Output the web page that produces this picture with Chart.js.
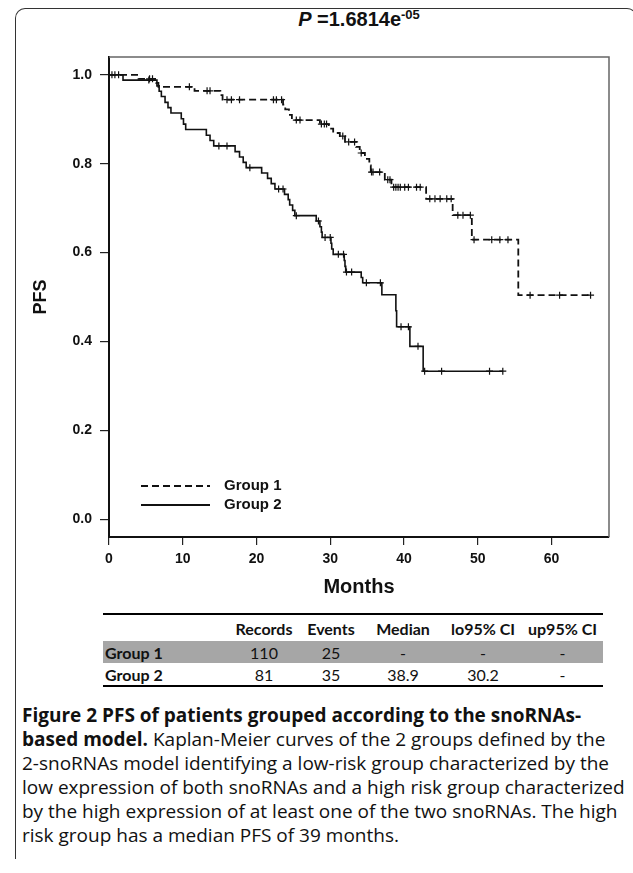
<!DOCTYPE html>
<html>
<head>
<meta charset="utf-8">
<script src="https://cdn.jsdelivr.net/npm/chart.js@4.4.1/dist/chart.umd.min.js"></script>
<style>
  html, body { margin: 0; padding: 0; background: #fff; }
  body { width: 633px; height: 873px; position: relative; overflow: hidden; font-family: 'Liberation Sans', Arial, sans-serif; color: #111; }
  #frame { position: absolute; left: 15px; top: 8px; width: 620px; height: 850px; border: 1.5px solid #333; border-bottom: none; border-radius: 10px 10px 0 0; }
  #plotTitle { position: absolute; left: 109px; top: 8px; width: 500px; text-align: center; font: bold 20px 'Liberation Sans', Arial, sans-serif; }
  #plotTitle i { font-style: italic; }
  #plotTitle sup { font-size: 13px; vertical-align: 7px; line-height: 0; }
  #wrap { position: absolute; left: 0; top: 0; width: 633px; height: 600px; }
  #stats { position: absolute; left: 103px; top: 613px; width: 500px; table-layout: fixed; border-collapse: collapse; font-family: Lato, 'Open Sans', sans-serif; font-size: 16px; border-top: 2px solid #000; border-bottom: 2px solid #000; }
  #stats th { font-weight: bold; height: 26px; padding: 0; text-align: center; white-space: nowrap; }
  #stats td { height: 22px; padding: 0; text-align: center; white-space: nowrap; }
  #stats td.lab { text-align: left; font-weight: bold; padding-left: 2px; }
  #stats tr.shade td { background: #a6a6a6; }
  #caption { position: absolute; left: 22px; top: 703px; width: 610px; font-family: 'Open Sans', sans-serif; font-size: 19px; line-height: 24px; white-space: nowrap; }
</style>
</head>
<body>
<div id="frame"></div>
<div id="plotTitle"><i>P</i> =1.6814e<sup>-05</sup></div>
<div id="wrap"><canvas id="km" width="633" height="600"></canvas></div>
<table id="stats"><colgroup id="cols"></colgroup><thead><tr id="headRow"></tr></thead><tbody id="statsBody"></tbody></table>
<div id="caption"><b>Figure 2 PFS of patients grouped according to the snoRNAs-<br>based model.</b> Kaplan-Meier curves of the 2 groups defined by the<br>2-snoRNAs model identifying a low-risk group characterized by the<br>low expression of both snoRNAs and a high risk group characterized<br>by the high expression of at least one of the two snoRNAs. The high<br>risk group has a median PFS of 39 months.</div>
<script>
// Kaplan-Meier steps (months, survival after the event)
const g1Times = [4.0, 6.4, 6.7, 11.6, 15.1, 15.4, 23.6, 23.9, 24.4, 24.8, 28.6, 29.8, 30.4, 31.3, 32.0,
  33.5, 34.0, 34.7, 35.3, 35.5, 37.4, 38.3, 43.0, 46.6, 49.2, 55.5];
const g1Surv = [0.991, 0.982, 0.973, 0.964, 0.954, 0.944, 0.933, 0.922, 0.910, 0.898, 0.889, 0.879, 0.869, 0.862, 0.849,
  0.838, 0.824, 0.811, 0.796, 0.781, 0.764, 0.747, 0.721, 0.684, 0.629, 0.504];
const g1Censor = [0.4, 1.3, 5.5, 5.9, 10.9, 13.3, 13.7, 16.0, 16.6, 17.7, 22.3, 22.7, 23.4, 25.4, 25.9, 28.8, 29.2, 29.5,
  31.7, 32.5, 33.3, 34.2, 35.6, 35.8, 36.7, 37.8, 38.1, 38.6, 38.9, 39.2, 39.5, 40.1, 40.6, 41.7, 42.2, 43.5, 44.2,
  44.9, 45.8, 46.4, 47.3, 48.0, 49.0, 49.5, 51.9, 53.0, 54.1, 57.1, 61.1, 65.3];

const g2Times = [1.9, 6.5, 6.8, 7.1, 7.6, 8.0, 8.4, 9.8, 10.1, 10.4, 13.2, 13.7, 14.2, 17.1, 17.7, 18.2, 18.6,
  20.7, 21.5, 22.0, 22.5, 23.8, 24.3, 24.5, 24.9, 25.2, 28.1, 28.6, 28.8, 28.9, 30.1, 30.2, 30.4, 31.9, 32.0, 32.1,
  34.2, 34.4, 37.0, 38.9, 39.0, 40.8, 42.6];
const g2Surv = [0.988, 0.975, 0.963, 0.951, 0.938, 0.926, 0.914, 0.901, 0.889, 0.877, 0.864, 0.852, 0.840, 0.827, 0.815,
  0.803, 0.791, 0.779, 0.767, 0.755, 0.743, 0.731, 0.719, 0.707, 0.695, 0.683, 0.671, 0.658, 0.646, 0.634, 0.621,
  0.608, 0.596, 0.582, 0.569, 0.556, 0.544, 0.532, 0.505, 0.469, 0.433, 0.389, 0.333];
const g2Censor = [0.8, 5.4, 14.9, 16.0, 19.1, 23.0, 23.6, 25.4, 28.4, 29.3, 30.0, 31.1, 31.8, 32.2, 32.9, 34.9, 36.8,
  39.6, 40.6, 41.9, 42.8, 45.1, 51.6, 53.4];

const groupLabels = ['Group 1', 'Group 2'];
const xTicks = [0, 10, 20, 30, 40, 50, 60];
const yTicks = [0, 0.2, 0.4, 0.6, 0.8, 1.0];

// summary table
const tableHeaders = ['', 'Records', 'Events', 'Median', 'lo95% CI', 'up95% CI'];
const records = [110, 81];
const events = [25, 35];
const medians = ['-', '38.9'];
const lo95 = ['-', '30.2'];
const up95 = ['-', '-'];
const colWidths = [125, 72, 62, 82, 78, 81];

const FONT = "'Liberation Sans', Arial, sans-serif";

function stepPoints(times, surv, endTime) {
  const pts = [{ x: 0, y: 1 }];
  times.forEach((t, i) => pts.push({ x: t, y: surv[i] }));
  pts.push({ x: endTime, y: surv[surv.length - 1] });
  return pts;
}

function survAt(times, surv, t) {
  let s = 1;
  for (let i = 0; i < times.length; i++) {
    if (times[i] <= t) s = surv[i];
    else break;
  }
  return s;
}

function censorPoints(times, surv, cens) {
  return cens.map(t => ({ x: t, y: survAt(times, surv, t) }));
}

// grey top/right edges of the plot box
const boxPlugin = {
  id: 'box',
  beforeDatasetsDraw(chart) {
    const { ctx, chartArea: a } = chart;
    ctx.save();
    ctx.strokeStyle = '#666';
    ctx.lineWidth = 1.5;
    ctx.beginPath();
    ctx.moveTo(a.left, a.top);
    ctx.lineTo(a.right, a.top);
    ctx.lineTo(a.right, a.bottom);
    ctx.stroke();
    ctx.restore();
  }
};

// legend in the lower left corner of the plot
const kmLegend = {
  id: 'kmLegend',
  afterDatasetsDraw(chart) {
    const { ctx, chartArea: a } = chart;
    const rows = [chart.data.datasets[0], chart.data.datasets[2]];
    ctx.save();
    rows.forEach((ds, i) => {
      const y = a.bottom - 51 + i * 19;
      ctx.strokeStyle = '#111';
      ctx.lineWidth = 2;
      ctx.setLineDash(ds.borderDash || []);
      ctx.beginPath();
      ctx.moveTo(a.left + 32, y);
      ctx.lineTo(a.left + 101, y);
      ctx.stroke();
      ctx.setLineDash([]);
      ctx.fillStyle = '#111';
      ctx.font = 'bold 15px ' + FONT;
      ctx.textBaseline = 'middle';
      ctx.fillText(ds.label, a.left + 115, y);
    });
    ctx.restore();
  }
};

new Chart(document.getElementById('km'), {
  type: 'line',
  data: {
    datasets: [
      {
        label: groupLabels[0],
        data: stepPoints(g1Times, g1Surv, g1Censor[g1Censor.length - 1]),
        stepped: 'before',
        borderColor: '#111',
        borderWidth: 1.8,
        borderDash: [7, 4],
        pointRadius: 0,
        fill: false
      },
      {
        type: 'scatter',
        data: censorPoints(g1Times, g1Surv, g1Censor),
        pointStyle: 'cross',
        pointRadius: 3.5,
        borderColor: '#111',
        borderWidth: 1.2,
        showLine: false
      },
      {
        label: groupLabels[1],
        data: stepPoints(g2Times, g2Surv, g2Censor[g2Censor.length - 1]),
        stepped: 'before',
        borderColor: '#111',
        borderWidth: 1.6,
        pointRadius: 0,
        fill: false
      },
      {
        type: 'scatter',
        data: censorPoints(g2Times, g2Surv, g2Censor),
        pointStyle: 'cross',
        pointRadius: 3.5,
        borderColor: '#111',
        borderWidth: 1.2,
        showLine: false
      }
    ]
  },
  options: {
    responsive: false,
    animation: false,
    devicePixelRatio: 1,
    layout: { padding: { left: 0, right: 24, top: 57, bottom: 0 } },
    plugins: { legend: { display: false }, tooltip: { enabled: false } },
    scales: {
      x: {
        type: 'linear',
        min: 0,
        max: 67.8,
        afterBuildTicks: s => { s.ticks = xTicks.map(v => ({ value: v })); },
        afterFit: s => { s.height = 63; },
        grid: { drawOnChartArea: false, drawTicks: true, tickLength: 8, color: '#222', lineWidth: 1.2 },
        border: { display: true, color: '#111', width: 2 },
        ticks: { font: { family: FONT, weight: 'bold', size: 14 }, color: '#111', padding: 6, maxRotation: 0, autoSkip: false },
        title: { display: true, text: 'Months', color: '#111', font: { family: FONT, weight: 'bold', size: 20 }, padding: { top: 0, bottom: 1 } }
      },
      y: {
        min: -0.04,
        max: 1.04,
        afterBuildTicks: s => { s.ticks = yTicks.map(v => ({ value: v })); },
        afterFit: s => { s.width = 109; },
        grid: { drawOnChartArea: false, drawTicks: true, tickLength: 9, color: '#222', lineWidth: 1.2 },
        border: { display: true, color: '#111', width: 2 },
        ticks: { font: { family: FONT, weight: 'bold', size: 14 }, color: '#111', padding: 8, callback: v => v.toFixed(1) },
        title: { display: true, text: 'PFS', color: '#111', font: { family: FONT, weight: 'bold', size: 18 }, padding: { top: 30, bottom: 0 } }
      }
    }
  },
  plugins: [boxPlugin, kmLegend]
});

// table
const cols = document.getElementById('cols');
colWidths.forEach(w => {
  const col = document.createElement('col');
  col.style.width = w + 'px';
  cols.appendChild(col);
});
const headRow = document.getElementById('headRow');
tableHeaders.forEach(h => {
  const th = document.createElement('th');
  th.textContent = h;
  headRow.appendChild(th);
});
const body = document.getElementById('statsBody');
groupLabels.forEach((g, i) => {
  const tr = document.createElement('tr');
  if (i === 0) tr.className = 'shade';
  const cells = [g, records[i], events[i], medians[i], lo95[i], up95[i]];
  cells.forEach((c, j) => {
    const td = document.createElement('td');
    td.textContent = c;
    if (j === 0) td.className = 'lab';
    tr.appendChild(td);
  });
  body.appendChild(tr);
});
</script>
</body>
</html>
